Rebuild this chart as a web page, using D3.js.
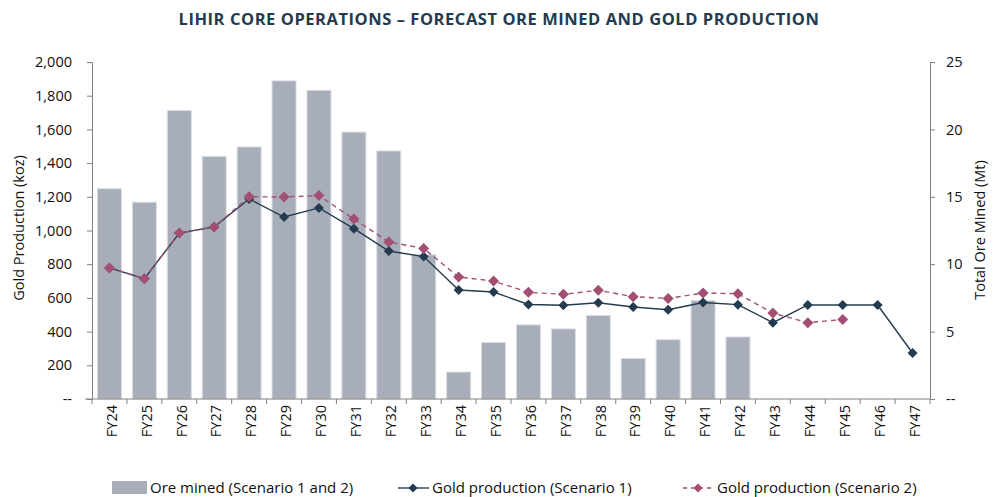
<!DOCTYPE html>
<html>
<head>
<meta charset="utf-8">
<script src="https://cdn.jsdelivr.net/npm/d3@7"></script>
<style>
  body { margin: 0; background: #fff; }
  svg text { font-family: "Open Sans", sans-serif; fill: #111; }
</style>
</head>
<body>
<div class="chart"></div>
<script>
const years = ["FY24","FY25","FY26","FY27","FY28","FY29","FY30","FY31","FY32","FY33","FY34","FY35",
  "FY36","FY37","FY38","FY39","FY40","FY41","FY42","FY43","FY44","FY45","FY46","FY47"];
// Mt, right axis
const oreMined = [15.6,14.6,21.4,18.0,18.7,23.6,22.9,19.8,18.4,10.7,2.0,4.2,5.5,5.2,6.2,3.0,4.4,7.3,4.6,
  null,null,null,null,null];
// koz, left axis
const goldScen1 = [778,714,985,1021,1187,1080,1134,1011,878,845,647,635,561,556,571,546,530,573,560,
  453,558,558,558,273];
const goldScen2 = [778,714,985,1021,1200,1199,1207,1068,932,893,724,700,633,621,645,607,597,629,625,
  510,453,472,null,null];
const leftTicks = [0,200,400,600,800,1000,1200,1400,1600,1800,2000];
const rightTicks = [0,5,10,15,20,25];

const W = 993, H = 497;
const margin = { top: 62, right: 63, bottom: 98, left: 92 };
const width = W - margin.left - margin.right,
  height = H - margin.top - margin.bottom;

const barColor = "#a7adb9", darkColor = "#243b4f", pinkColor = "#a34e73", axisColor = "#808080";

const root = d3.select(".chart").append("svg")
  .attr("width", W).attr("height", H);

root.append("text")
  .attr("x", 499).attr("y", 25)
  .attr("text-anchor", "middle")
  .style("font-size", "16.5px")
  .style("font-weight", "bold")
  .style("letter-spacing", "0.55px")
  .style("fill", "#243b4f")
  .text("LIHIR CORE OPERATIONS \u2013 FORECAST ORE MINED AND GOLD PRODUCTION");

const svg = root.append("g")
  .attr("transform", "translate(" + margin.left + "," + margin.top + ")");

const yLeft = d3.scaleLinear().domain([0, 2000]).range([height, 0]);
const yRight = d3.scaleLinear().domain([0, 25]).range([height, 0]);
const xBand = d3.scaleBand().domain(years).range([0, width]);
const cx = (d) => xBand(d) + xBand.bandwidth() / 2;

// bars
svg.selectAll("rect.bar")
  .data(years.map((y, i) => ({ year: y, v: oreMined[i] })).filter((d) => d.v != null))
  .enter().append("rect")
  .attr("class", "bar")
  .attr("x", (d) => cx(d.year) - 12)
  .attr("width", 24)
  .attr("y", (d) => yRight(d.v))
  .attr("height", (d) => height - yRight(d.v))
  .attr("fill", barColor)
  .attr("stroke", "#dadde2")
  .attr("stroke-width", 1);

// axes
const fmt = (d) => d === 0 ? "--" : d3.format(",")(d);
const leftAxis = svg.append("g")
  .call(d3.axisLeft(yLeft).tickValues(leftTicks).tickFormat(fmt).tickSizeOuter(0).tickSize(5).tickPadding(15));
const rightAxis = svg.append("g")
  .attr("transform", `translate(${width},0)`)
  .call(d3.axisRight(yRight).tickValues(rightTicks).tickFormat((d) => d === 0 ? "--" : d).tickSizeOuter(0).tickSize(5).tickPadding(11));
const xAxis = svg.append("g")
  .attr("transform", `translate(0,${height})`)
  .call(d3.axisBottom(xBand).tickSizeOuter(0).tickSize(0).tickFormat((d) => d));

// tick marks at band edges
svg.append("g").selectAll("line")
  .data(d3.range(years.length + 1))
  .enter().append("line")
  .attr("x1", (i) => i * xBand.step()).attr("x2", (i) => i * xBand.step())
  .attr("y1", height).attr("y2", height + 5)
  .attr("stroke", axisColor);
svg.append("line")
  .attr("x1", -7).attr("x2", width)
  .attr("y1", height).attr("y2", height)
  .attr("stroke", axisColor);

[leftAxis, rightAxis, xAxis].forEach((a) => {
  a.select(".domain").attr("stroke", axisColor);
  a.selectAll(".tick line").attr("stroke", axisColor);
  a.selectAll("text").style("font-size", "14.5px").style("fill", "#111");
});
xAxis.select(".domain").remove();

xAxis.selectAll("text")
  .attr("transform", "rotate(-90)")
  .attr("text-anchor", "end")
  .attr("x", -6).attr("y", 0).attr("dy", "0.5em");

// axis titles
svg.append("text")
  .attr("transform", `translate(${-68},${166}) rotate(-90)`)
  .attr("text-anchor", "middle")
  .style("font-size", "14.5px")
  .text("Gold Production (koz)");
svg.append("text")
  .attr("transform", `translate(${width + 55},${168}) rotate(-90)`)
  .attr("text-anchor", "middle")
  .style("font-size", "14.5px")
  .text("Total Ore Mined (Mt)");

// lines
const diamond = (r) => `M0,${-r}L${r},0L0,${r}L${-r},0Z`;
function drawSeries(values, color, dash, r) {
  const pts = years.map((y, i) => ({ year: y, v: values[i] })).filter((d) => d.v != null);
  svg.append("path")
    .datum(pts)
    .attr("fill", "none")
    .attr("stroke", color)
    .attr("stroke-width", 1.4)
    .attr("stroke-dasharray", dash)
    .attr("d", d3.line().x((d) => cx(d.year)).y((d) => yLeft(d.v)));
  svg.selectAll(null)
    .data(pts)
    .enter().append("path")
    .attr("transform", (d) => `translate(${cx(d.year)},${yLeft(d.v)})`)
    .attr("d", diamond(r))
    .attr("fill", color);
}
drawSeries(goldScen1, darkColor, null, 5);
drawSeries(goldScen2, pinkColor, "5,4", 5.5);

// legend
const legend = root.append("g").attr("transform", "translate(0,488)");
legend.append("rect").attr("x", 112).attr("y", -7).attr("width", 35).attr("height", 13).attr("fill", barColor);
legend.append("text").attr("x", 150).attr("y", 0).attr("dy", "0.35em").style("font-size", "15px")
  .text("Ore mined (Scenario 1 and 2)");
legend.append("line").attr("x1", 398).attr("x2", 429).attr("y1", 0).attr("y2", 0)
  .attr("stroke", darkColor).attr("stroke-width", 1.4);
legend.append("path").attr("transform", "translate(413,0)").attr("d", diamond(4.5)).attr("fill", darkColor);
legend.append("text").attr("x", 432).attr("y", 0).attr("dy", "0.35em").style("font-size", "15px")
  .text("Gold production (Scenario 1)");
legend.append("line").attr("x1", 683).attr("x2", 714).attr("y1", 0).attr("y2", 0)
  .attr("stroke", pinkColor).attr("stroke-width", 1.4).attr("stroke-dasharray", "4,4");
legend.append("path").attr("transform", "translate(698,0)").attr("d", diamond(4.5)).attr("fill", pinkColor);
legend.append("text").attr("x", 717).attr("y", 0).attr("dy", "0.35em").style("font-size", "15px")
  .text("Gold production (Scenario 2)");
</script>
</body>
</html>
